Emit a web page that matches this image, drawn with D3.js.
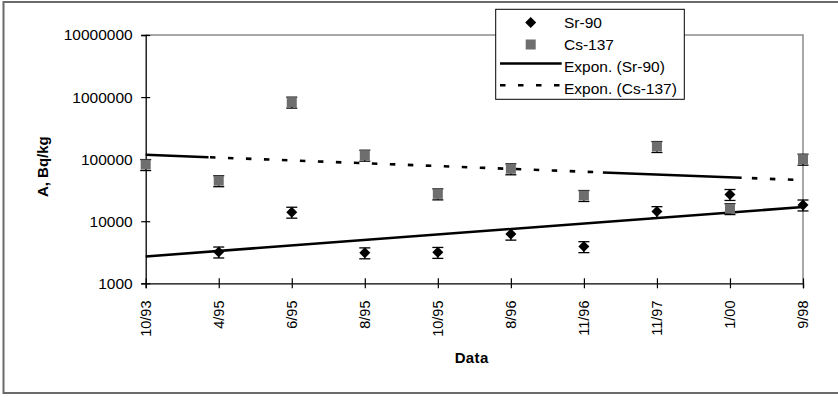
<!DOCTYPE html>
<html>
<head>
<meta charset="utf-8">
<script src="https://cdn.jsdelivr.net/npm/d3@7"></script>
<style>
  html, body { margin: 0; padding: 0; background: #fff; }
  svg { display: block; font-family: "Liberation Sans", Arial, sans-serif; }
</style>
</head>
<body>
<svg id="chart" width="838" height="397"></svg>
<script>
// Sampling dates (category axis)
const categories = ["10/93", "4/95", "6/95", "8/95", "10/95", "8/96", "11/96", "11/97", "1/00", "9/98"];
// Specific activity, Bq/kg
const sr90  = [null, 3200, 14000, 3100, 3150, 6200, 3900, 14300, 27000, 18300];
const cs137 = [82000, 45000, 830000, 116000, 27600, 70000, 26000, 160000, 16000, 100000];
// Relative measurement error
const errFraction = 0.2;
// Axis ticks
const yTicks = [1000, 10000, 100000, 1000000, 10000000];

const svg = d3.select("#chart");
const W = 838, H = 397;
const plot = { left: 145.7, right: 803, top: 35, bottom: 283.3 };

// Outer chart border
svg.append("rect")
  .attr("x", 3.5).attr("y", 2).attr("width", 845).attr("height", 391)
  .attr("fill", "#fff").attr("stroke", "#6a6a6a").attr("stroke-width", 2);

const x = d3.scalePoint().domain(categories).range([plot.left, plot.right]).padding(0);
const y = d3.scaleLog().domain([1000, 10000000]).range([plot.bottom, plot.top]);

// Plot frame (top and right edges in grey)
svg.append("path")
  .attr("d", `M${plot.left},${plot.top}H${plot.right}V${plot.bottom}`)
  .attr("fill", "none").attr("stroke", "#8c8c8c").attr("stroke-width", 1.5);

// Y axis
const yAxis = svg.append("g")
  .attr("transform", `translate(${plot.left},0)`)
  .call(d3.axisLeft(y).tickValues(yTicks).tickFormat(d3.format("d")).tickSize(4.5).tickPadding(8.5));
yAxis.select(".domain").attr("stroke", "#000").attr("stroke-width", 1.3);
yAxis.selectAll(".tick line").attr("x1", -4.5).attr("x2", 4.5).attr("stroke", "#000").attr("stroke-width", 1.2);
yAxis.selectAll(".tick text").attr("font-size", "15.5px").attr("fill", "#000")
  .attr("font-family", "Liberation Sans, Arial, sans-serif");

// X axis
const xAxis = svg.append("g")
  .attr("transform", `translate(0,${plot.bottom})`)
  .call(d3.axisBottom(x).tickSize(5).tickFormat(""));
xAxis.select(".domain").attr("stroke", "#000").attr("stroke-width", 1.3);
xAxis.selectAll(".tick line").attr("y1", -5).attr("y2", 5).attr("stroke", "#000").attr("stroke-width", 1.2);

// Rotated category labels
svg.append("g").selectAll("text")
  .data(categories).join("text")
  .attr("transform", d => `translate(${x(d)},300.5) rotate(-90)`)
  .attr("text-anchor", "end")
  .attr("dy", "0.35em")
  .attr("font-size", "14.5px")
  .attr("fill", "#000")
  .text(d => d);

// Axis titles
svg.append("text")
  .attr("transform", "translate(48,166.7) rotate(-90)")
  .attr("text-anchor", "middle")
  .attr("font-size", "15px").attr("font-weight", "bold")
  .text("A, Bq/kg");
svg.append("text")
  .attr("x", 471.7).attr("y", 363.3)
  .attr("text-anchor", "middle")
  .attr("font-size", "15px").attr("font-weight", "bold")
  .attr("letter-spacing", "0.4px")
  .text("Data");

// Exponential trendline (least squares on log values vs. category number)
function expFit(values) {
  const pts = values.map((v, i) => [i + 1, v]).filter(p => p[1] != null);
  const mx = d3.mean(pts, p => p[0]);
  const my = d3.mean(pts, p => Math.log(p[1]));
  const sxy = d3.sum(pts, p => (p[0] - mx) * (Math.log(p[1]) - my));
  const sxx = d3.sum(pts, p => (p[0] - mx) ** 2);
  const b = sxy / sxx, a = my - b * mx;
  return t => Math.exp(a + b * (t + 1)); // t = 0-based category position
}
const step = x.step();
const posX = t => plot.left + t * step;

function trendPiece(fit, t0, t1, dashed) {
  const line = d3.line().x(d => posX(d)).y(d => y(fit(d)));
  svg.append("path")
    .attr("d", line([t0, t1]))
    .attr("fill", "none").attr("stroke", "#000").attr("stroke-width", 2.6)
    .attr("stroke-dasharray", dashed ? "5.5,12.5" : null);
}
const srFit = expFit(sr90);
const csFit = expFit(cs137);
trendPiece(srFit, 0, categories.length - 1, false);
// Cs-137 trend: dashed, with the solid stretches seen in the original rendering
trendPiece(csFit, 0, 0.86, false);
trendPiece(csFit, 0.88, 6.26, true);
trendPiece(csFit, 6.26, 8.16, false);
trendPiece(csFit, 8.3, 9, true);

// Error bars
function errorBars(values) {
  const g = svg.append("g").attr("stroke", "#000").attr("stroke-width", 1.3);
  values.forEach((v, i) => {
    if (v == null) return;
    const cx = x(categories[i]);
    const yHi = y(v * (1 + errFraction)), yLo = y(v * (1 - errFraction));
    g.append("line").attr("x1", cx).attr("x2", cx).attr("y1", yHi).attr("y2", yLo);
    g.append("line").attr("x1", cx - 5.5).attr("x2", cx + 5.5).attr("y1", yHi).attr("y2", yHi);
    g.append("line").attr("x1", cx - 5.5).attr("x2", cx + 5.5).attr("y1", yLo).attr("y2", yLo);
  });
}
errorBars(cs137);
errorBars(sr90);

// Markers
const csColor = "#6e6e6e";
svg.append("g").selectAll("rect")
  .data(cs137.map((v, i) => ({ v, c: categories[i] })).filter(d => d.v != null))
  .join("rect")
  .attr("x", d => x(d.c) - 5).attr("y", d => y(d.v) - 5)
  .attr("width", 10).attr("height", 10)
  .attr("fill", csColor);

const diamond = "M0,-5.5L5.5,0L0,5.5L-5.5,0Z";
svg.append("g").selectAll("path")
  .data(sr90.map((v, i) => ({ v, c: categories[i] })).filter(d => d.v != null))
  .join("path")
  .attr("d", diamond)
  .attr("transform", d => `translate(${x(d.c)},${y(d.v)})`)
  .attr("fill", "#000");

// Legend
const lg = svg.append("g");
lg.append("rect")
  .attr("x", 495.7).attr("y", 9.3).attr("width", 188.6).attr("height", 90)
  .attr("fill", "#fff").attr("stroke", "#000").attr("stroke-width", 1);
const legendItems = ["Sr-90", "Cs-137", "Expon. (Sr-90)", "Expon. (Cs-137)"];
const rowY = [22.5, 44.5, 66.5, 88.3];
lg.append("path").attr("d", diamond).attr("transform", `translate(530.7,${rowY[0]})`).attr("fill", "#000");
lg.append("rect").attr("x", 525.7).attr("y", rowY[1] - 5).attr("width", 10).attr("height", 10).attr("fill", csColor);
lg.append("line").attr("x1", 500).attr("x2", 561.7).attr("y1", rowY[2] - 3).attr("y2", rowY[2] - 3)
  .attr("stroke", "#000").attr("stroke-width", 2.6);
lg.append("line").attr("x1", 500).attr("x2", 561.7).attr("y1", rowY[3] - 3).attr("y2", rowY[3] - 3)
  .attr("stroke", "#000").attr("stroke-width", 2.6).attr("stroke-dasharray", "5.5,12.5");
lg.selectAll("text.item").data(legendItems).join("text")
  .attr("class", "item")
  .attr("x", 564).attr("y", (d, i) => rowY[i])
  .attr("dy", "0.36em")
  .attr("font-size", "15.5px").attr("fill", "#000")
  .text(d => d);
</script>
</body>
</html>
